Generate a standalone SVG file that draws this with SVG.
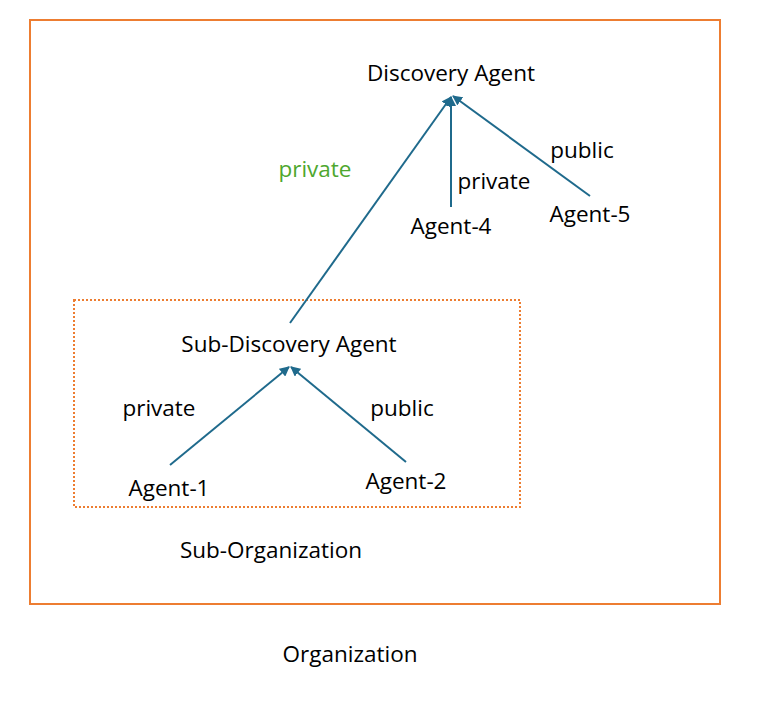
<svg xmlns="http://www.w3.org/2000/svg" width="779" height="703" viewBox="0 0 779 703">
<style>
text{font-family:"Open Sans","Liberation Sans",sans-serif;font-size:22.5px;fill:#000}
.g{fill:#4EA72E}
.c{stroke:#1F6A8C;stroke-width:2;fill:none}
</style>
<defs>
<marker id="ah" viewBox="0 0 10 10" refX="9" refY="5" markerWidth="5" markerHeight="5" orient="auto" markerUnits="strokeWidth">
<path d="M0,0 L10,5 L0,10 z" fill="#1F6A8C"/>
</marker>
</defs>
<rect id="organization" x="30" y="20" width="690" height="584" fill="none" stroke="#ED7D31" stroke-width="2"/>
<rect id="sub-organization" x="74" y="300" width="446" height="207" fill="none" stroke="#ED7D31" stroke-width="2" stroke-dasharray="2,2"/>
<g id="connectors">
<line class="c" x1="290" y1="323" x2="451" y2="97" marker-end="url(#ah)"/>
<line class="c" x1="451" y1="207" x2="451" y2="97" marker-end="url(#ah)"/>
<line class="c" x1="590" y1="196" x2="453" y2="96" marker-end="url(#ah)"/>
<line class="c" x1="170" y1="465" x2="289" y2="367" marker-end="url(#ah)"/>
<line class="c" x1="406" y1="462" x2="291" y2="367" marker-end="url(#ah)"/>
</g>
<g id="discovery-agent"><text x="451" y="81" text-anchor="middle">Discovery Agent</text></g>
<g id="agent-4"><text x="451" y="234" text-anchor="middle">Agent-4</text></g>
<g id="agent-5"><text x="590" y="222" text-anchor="middle">Agent-5</text></g>
<g id="sub-discovery-agent"><text x="289" y="352" text-anchor="middle">Sub-Discovery Agent</text></g>
<g id="agent-1"><text x="169" y="496" text-anchor="middle">Agent-1</text></g>
<g id="agent-2"><text x="406" y="489" text-anchor="middle">Agent-2</text></g>
<g id="labels">
<text class="g" x="315" y="177" text-anchor="middle">private</text>
<text x="494" y="189" text-anchor="middle">private</text>
<text x="582" y="158" text-anchor="middle">public</text>
<text x="159" y="416" text-anchor="middle">private</text>
<text x="402" y="416" text-anchor="middle">public</text>
<text x="271" y="558" text-anchor="middle">Sub-Organization</text>
<text x="350" y="662" text-anchor="middle">Organization</text>
</g>
</svg>
